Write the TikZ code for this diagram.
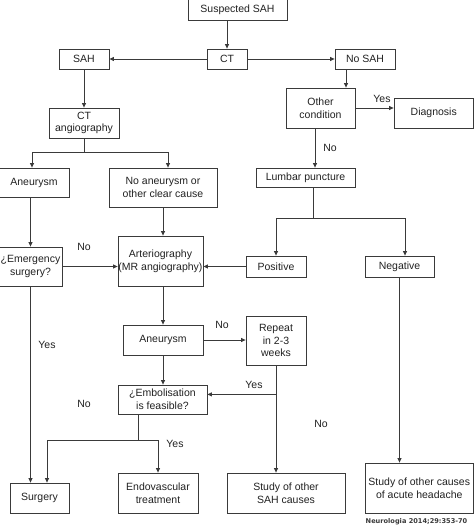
\documentclass[tikz,border=0pt]{standalone}
\usepackage{fontspec}
\setmainfont{Liberation Sans}
\newfontfamily\citefont{DejaVu Sans}
\usetikzlibrary{arrows.meta,calc}
\definecolor{linec}{HTML}{3A3A3A}
\definecolor{textc}{HTML}{222222}
\begin{document}
\begin{tikzpicture}[x=1pt,y=-1pt,
  box/.style={draw=linec,line width=0.8pt,align=center,inner sep=0pt,
    font=\fontsize{10.5}{12.7}\selectfont,text=textc},
  arr/.style={draw=linec,line width=0.8pt,-{Triangle[length=4.5pt,width=4pt]}},
  ln/.style={draw=linec,line width=0.8pt},
  lab/.style={font=\fontsize{10.5}{12.7}\selectfont,text=textc,inner sep=0pt}]
\useasboundingbox (0,0) rectangle (474,532);
\fill[white] (0,0) rectangle (474,532);
% nodes
\node[box,minimum width=99pt,minimum height=21pt] (sus) at (237.5,9.5) {Suspected SAH};
\node[box,minimum width=40pt,minimum height=20pt] (ct) at (227,59) {CT};
\node[box,minimum width=50pt,minimum height=20pt] (sah) at (84,59) {SAH};
\node[box,minimum width=60pt,minimum height=20pt] (nosah) at (365,59) {No SAH};
\node[box,minimum width=70pt,minimum height=30pt] (cta) at (84,123) {CT\\angiography};
\node[box,minimum width=69pt,minimum height=40pt] (other) at (320.5,108) {Other\\condition};
\node[box,minimum width=79.5pt,minimum height=30pt] (diag) at (433.75,113) {Diagnosis};
\node[box,minimum width=99pt,minimum height=19pt] (lp) at (305.5,177.5) {Lumbar puncture};
\node[box,minimum width=70pt,minimum height=29pt] (aneu1) at (34,182.5) {Aneurysm};
\node[box,minimum width=108pt,minimum height=39pt] (noaneu) at (163,187.5) {No aneurysm or\\other clear cause};
\node[box,minimum width=63pt,minimum height=39pt] (emerg) at (30.5,266.5) {¿Emergency\\surgery?};
\node[box,minimum width=85pt,minimum height=50pt] (arte) at (160.5,261) {Arteriography\\(MR angiography)};
\node[box,minimum width=60pt,minimum height=21pt] (pos) at (276,266.5) {Positive};
\node[box,minimum width=69pt,minimum height=21pt] (neg) at (399.5,266.5) {Negative};
\node[box,minimum width=80pt,minimum height=30pt] (aneu2) at (163,340) {Aneurysm};
\node[box,minimum width=60pt,minimum height=49pt] (repeat) at (276,340.5) {Repeat\\in 2-3\\weeks};
\node[box,minimum width=89pt,minimum height=29pt] (embo) at (162.5,399.5) {¿Embolisation\\is feasible?};
\node[box,minimum width=59pt,minimum height=30pt] (surg) at (39.5,498) {Surgery};
\node[box,minimum width=80pt,minimum height=40pt] (endo) at (158,493) {Endovascular\\treatment};
\node[box,minimum width=118pt,minimum height=40pt] (ssah) at (286,493) {Study of other\\SAH causes};
\node[box,minimum width=108.5pt,minimum height=50pt] (shead) at (419.25,488) {Study of other causes\\of acute headache};
\node[inner sep=0pt,text=linec,font=\citefont\bfseries\fontsize{6.6}{7.5}\selectfont] (cite) at (416.5,522) {Neurologia 2014;29:353-70};
% connectors
\draw[arr] (ct |- sus.south) -- (ct.north);
\draw[arr] (ct.west) -- (sah.east);
\draw[arr] (ct.east) -- (nosah.west);
\draw[arr] (sah.south) -- (cta.north);
\draw[arr] ([xshift=-19pt]nosah.south) -- ([xshift=-19pt]nosah.south |- other.north);
\draw[arr] (other.east) -- (diag.west |- other.east);
\node[lab] (yes1) at (382,99) {Yes};
\draw[arr] ([xshift=-5.5pt]other.south) -- ([xshift=-5.5pt]other.south |- lp.north);
\node[lab] (no1) at (330,148) {No};
\coordinate (s1) at (84,152);
\draw[ln] (cta.south) -- (s1);
\draw[arr] (s1) -| ([xshift=-2pt]aneu1.north);
\draw[arr] (s1) -| ([xshift=5pt]noaneu.north);
\draw[arr] (emerg.north |- aneu1.south) -- (emerg.north);
\draw[arr] (emerg.east) -- (arte.west |- emerg.east);
\node[lab] (no2) at (84,247) {No};
\draw[arr] (noaneu.south) -- (noaneu.south |- arte.north);
\coordinate (s2) at (313,218);
\draw[ln] ([xshift=7.5pt]lp.south) -- (s2);
\draw[arr] (s2) -| (pos.north);
\draw[arr] (s2) -| ([xshift=5.5pt]neg.north);
\draw[arr] (pos.west) -- (arte.east |- pos.west);
\draw[arr] (aneu2.north |- arte.south) -- (aneu2.north);
\draw[arr] (aneu2.east) -- (repeat.west |- aneu2.east);
\node[lab] (no3) at (222,325) {No};
\draw[arr] (aneu2.south) -- (aneu2.south |- embo.north);
\draw[arr] (repeat.south) -- (repeat.south |- ssah.north);
\coordinate (rb) at ([yshift=-29pt]repeat.south);
\draw[arr] (rb) -- (rb -| embo.east);
\node[lab] (yes2) at (254,385) {Yes};
\node[lab] (no4) at (321,424) {No};
\draw[arr] (emerg.south) -- (emerg.south |- surg.north);
\node[lab] (yes3) at (47,345) {Yes};
\coordinate (eb) at (138,440);
\draw[ln] ([xshift=-24.5pt]embo.south) -- (eb);
\draw[arr] (eb) -| ([xshift=7.5pt]surg.north);
\draw[arr] (eb) -| (endo.north);
\node[lab] (no5) at (84,404) {No};
\node[lab] (yes4) at (175,444) {Yes};
\draw[arr] (neg.south) -- (neg.south |- shead.north);
\end{tikzpicture}
\end{document}
